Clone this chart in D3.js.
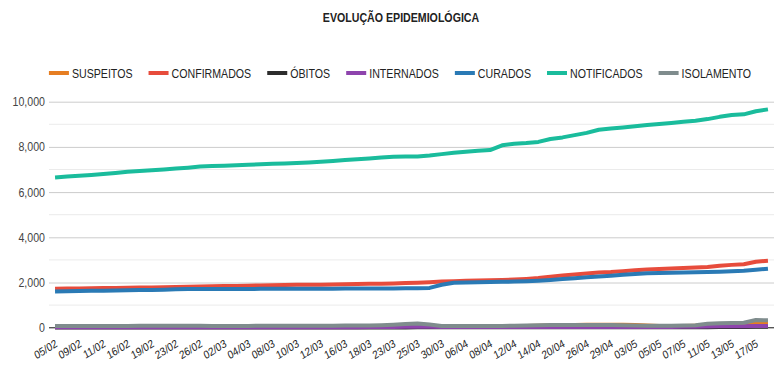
<!DOCTYPE html>
<html>
<head>
<meta charset="utf-8">
<script src="https://cdn.jsdelivr.net/npm/d3@7"></script>
<style>
  body { margin: 0; background: #fff; }
  text { font-family: "Liberation Sans", Arial, sans-serif; }
</style>
</head>
<body>
<div id="chart"></div>
<script>
// Dates (categorical axis, every second one labelled)
const dates = [
  "05/02","07/02","09/02","10/02","11/02","13/02","16/02","17/02","19/02","21/02",
  "23/02","25/02","26/02","28/02","02/03","03/03","04/03","06/03","08/03","09/03",
  "10/03","11/03","12/03","13/03","16/03","17/03","18/03","20/03","23/03","24/03",
  "25/03","27/03","30/03","02/04","06/04","07/04","08/04","09/04","12/04","13/04",
  "14/04","16/04","20/04","23/04","26/04","27/04","29/04","30/04","03/05","04/05",
  "05/05","06/05","07/05","08/05","11/05","12/05","13/05","14/05","17/05","18/05"
];

const seriesNames = ["SUSPEITOS","CONFIRMADOS","ÓBITOS","INTERNADOS","CURADOS","NOTIFICADOS","ISOLAMENTO"];
const seriesColors = ["#e67e22","#e74c3c","#2d2d2d","#8e44ad","#2a7ab5","#1abc9c","#7f8c8d"];

const suspeitos = [
  50,50,50,50,50,55,55,55,60,60, 60,60,60,60,60,60,60,60,60,60,
  60,60,60,60,60,60,60,60,60,60, 70,70,60,60,60,60,60,60,70,80,
  90,100,110,120,130,135,135,130,120,100, 80,80,80,90,110,130,150,170,230,250
];
const confirmados = [
  1720,1730,1740,1750,1755,1760,1770,1775,1780,1790, 1800,1810,1820,1830,1840,1850,1860,1870,1880,1890,
  1895,1900,1905,1910,1920,1930,1940,1950,1960,1975, 1990,2010,2040,2060,2080,2090,2100,2110,2130,2160,
  2200,2260,2310,2350,2400,2440,2460,2500,2540,2580, 2600,2620,2640,2660,2690,2740,2780,2810,2920,2960
];
const obitos = [
  5,5,5,5,5,5,5,5,5,5, 8,8,8,8,8,8,10,10,10,10,
  10,10,10,12,12,12,12,12,12,12, 15,15,15,15,15,15,15,18,18,18,
  18,20,20,20,20,20,22,22,22,22, 22,25,25,25,25,28,30,30,40,45
];
const internados = [
  15,15,15,15,15,15,15,15,15,15, 20,20,20,20,20,20,20,20,20,20,
  20,20,20,25,25,25,30,30,35,40, 45,45,35,30,30,30,30,30,30,30,
  35,35,35,35,35,35,35,35,35,35, 35,35,40,45,55,60,60,65,70,70
];
const curados = [
  1600,1610,1620,1630,1640,1650,1660,1665,1670,1680, 1700,1710,1710,1710,1712,1714,1716,1718,1720,1720,
  1722,1724,1726,1728,1730,1732,1734,1736,1738,1742, 1750,1760,1900,1990,2000,2010,2020,2030,2040,2060,
  2080,2110,2150,2190,2230,2270,2300,2340,2380,2410, 2420,2430,2440,2450,2460,2480,2500,2520,2560,2610
];
const notificados = [
  6650,6690,6720,6760,6800,6850,6900,6930,6970,7000, 7040,7080,7130,7150,7170,7190,7210,7230,7250,7270,
  7290,7310,7340,7380,7420,7450,7490,7530,7560,7570, 7580,7620,7680,7740,7790,7830,7860,8070,8140,8170,
  8220,8350,8420,8520,8620,8760,8810,8860,8910,8970, 9010,9060,9110,9160,9230,9330,9410,9440,9580,9660
];
const isolamento = [
  70,70,70,75,75,75,80,85,90,90, 90,85,85,80,80,80,80,85,85,85,
  90,90,90,90,95,95,100,110,130,160, 190,140,80,70,70,70,75,80,90,100,
  110,115,120,120,120,120,115,110,100,90, 90,90,95,110,170,200,210,220,340,330
];

const yTicks = [0, 2000, 4000, 6000, 8000, 10000];
const yGrid = [1000, 3000, 5000, 7000, 9000];

const allSeries = [suspeitos, confirmados, obitos, internados, curados, notificados, isolamento];

const width = 780, height = 380;
const plotLeft = 49, plotRight = 774, plotTop = 101.7, plotBottom = 327.7;
const squeeze = 0.85; // text in the reference is horizontally compressed

const svg = d3.select("#chart").append("svg")
  .attr("width", width)
  .attr("height", height)
  .attr("viewBox", [0, 0, width, height]);

const x = d3.scalePoint()
  .domain(dates)
  .range([plotLeft, plotRight])
  .padding(0.5);

const y = d3.scaleLinear()
  .domain([0, 10000])
  .range([plotBottom, plotTop]);

// Title
svg.append("text")
  .attr("transform", `translate(401,22) scale(${squeeze},1)`)
  .attr("text-anchor", "middle")
  .attr("font-size", 12.5)
  .attr("font-weight", "bold")
  .attr("fill", "#222")
  .text("EVOLUÇÃO EPIDEMIOLÓGICA");

// Legend
const legend = svg.append("g");
const items = legend.selectAll("g")
  .data(seriesNames)
  .join("g");
items.append("rect")
  .attr("width", 20)
  .attr("height", 4)
  .attr("y", -2)
  .attr("fill", (d, i) => seriesColors[i]);
items.append("text")
  .attr("font-size", 12.5)
  .attr("fill", "#222")
  .attr("dy", "0.36em")
  .text((d) => d);
let cursor = 0;
const widths = [];
items.each(function () {
  const t = d3.select(this).select("text");
  widths.push(t.node().getComputedTextLength() * squeeze);
});
const totalW = d3.sum(widths) + seriesNames.length * 23 + (seriesNames.length - 1) * 16;
cursor = 400 - totalW / 2;
items.each(function (d, i) {
  const g = d3.select(this);
  g.attr("transform", `translate(${cursor},73)`);
  g.select("text").attr("transform", `translate(23,0) scale(${squeeze},1)`);
  cursor += 23 + widths[i] + 16;
});

// Minor gridlines
svg.append("g")
  .selectAll("line")
  .data(yGrid)
  .join("line")
  .attr("x1", plotLeft)
  .attr("x2", plotRight)
  .attr("y1", (d) => y(d))
  .attr("y2", (d) => y(d))
  .attr("stroke", "#ebebeb")
  .attr("stroke-width", 1);

// Y axis with major gridlines
svg.append("g")
  .attr("transform", `translate(${plotLeft},0)`)
  .call(d3.axisLeft(y).tickValues(yTicks).tickFormat(d3.format(",")).tickSize(0).tickPadding(4))
  .call((g) => g.select(".domain").remove())
  .call((g) => g.selectAll(".tick line")
    .attr("x2", plotRight - plotLeft)
    .attr("stroke", "#cccccc"))
  .call((g) => g.selectAll(".tick text")
    .attr("font-family", "Liberation Sans, Arial, sans-serif")
    .attr("font-size", 12.5)
    .attr("fill", "#444")
    .attr("transform", `scale(${squeeze},1)`)
    .attr("x", -4 / squeeze));

// Baseline
svg.append("line")
  .attr("x1", plotLeft)
  .attr("x2", plotRight)
  .attr("y1", y(0))
  .attr("y2", y(0))
  .attr("stroke", "#333")
  .attr("stroke-width", 1);

// Lines
const line = d3.line()
  .x((d, i) => x(dates[i]))
  .y((d) => y(d));

svg.append("g")
  .selectAll("path")
  .data(allSeries)
  .join("path")
  .attr("fill", "none")
  .attr("stroke", (d, i) => seriesColors[i])
  .attr("stroke-width", 4)
  .attr("stroke-linejoin", "round")
  .attr("d", line);

// X labels (every second date), slanted
svg.append("g")
  .selectAll("text")
  .data(dates.filter((d, i) => i % 2 === 0))
  .join("text")
  .attr("transform", (d) => `translate(${x(d) + 3},346) scale(${squeeze},1) rotate(-28)`)
  .attr("text-anchor", "end")
  .attr("font-size", 11.5)
  .attr("fill", "#222")
  .text((d) => d);
</script>
</body>
</html>
